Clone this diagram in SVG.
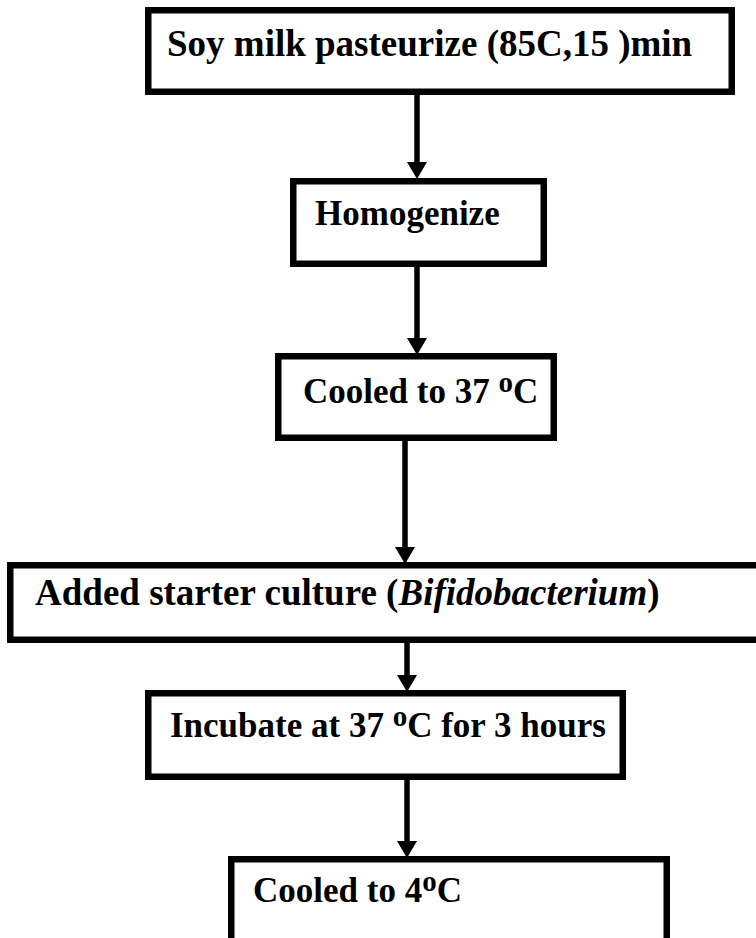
<svg xmlns="http://www.w3.org/2000/svg" width="756" height="938" viewBox="0 0 756 938">
<style>
.box{fill:#fff;stroke:#000;stroke-width:6.5}
.t{font-family:"Liberation Serif","Times New Roman",serif;font-weight:bold;font-size:35px;fill:#000}
.big{font-size:37px}
.sup{font-size:29px}
.sh{stroke:#000;stroke-width:5.5;fill:none}
.hd{fill:#000}
</style>
<rect width="756" height="938" fill="#fff"/>
<g id="connectors">
<line class="sh" x1="417" y1="95" x2="417" y2="164"/><polygon class="hd" points="407,162 427,162 417,179"/>
<line class="sh" x1="417" y1="267" x2="417" y2="340"/><polygon class="hd" points="407,338 427,338 417,355"/>
<line class="sh" x1="405" y1="441" x2="405" y2="549"/><polygon class="hd" points="395,547 415,547 405,564"/>
<line class="sh" x1="407" y1="643" x2="407" y2="677"/><polygon class="hd" points="397,675 417,675 407,692"/>
<line class="sh" x1="407" y1="780" x2="407" y2="843"/><polygon class="hd" points="397,841 417,841 407,858"/>
</g>
<g id="n1"><rect class="box" x="148.25" y="10.25" width="583.5" height="81.5"/><text class="t big" x="167" y="56">Soy milk pasteurize (85C,15 )min</text></g>
<g id="n2"><rect class="box" x="293.25" y="181.25" width="250.5" height="82.5"/><text class="t" x="315" y="225">Homogenize</text></g>
<g id="n3"><rect class="box" x="278.25" y="356.25" width="275.5" height="81.5"/><text class="t" x="303" y="403">Cooled to 37 <tspan class="sup" dy="-11">o</tspan><tspan dy="11">C</tspan></text></g>
<g id="n4"><rect class="box" x="10.25" y="565.25" width="760" height="74.5"/><text class="t big" x="35" y="605">Added starter culture (<tspan font-style="italic">Bifidobacterium</tspan>)</text></g>
<g id="n5"><rect class="box" x="148.25" y="693.25" width="474.5" height="83.5"/><text class="t" x="170" y="737">Incubate at 37 <tspan class="sup" dy="-11">o</tspan><tspan dy="11">C for 3 hours</tspan></text></g>
<g id="n6"><rect class="box" x="231.25" y="859.25" width="435.5" height="90"/><text class="t" x="253" y="902">Cooled to 4<tspan class="sup" dy="-11">o</tspan><tspan dy="11">C</tspan></text></g>
</svg>
